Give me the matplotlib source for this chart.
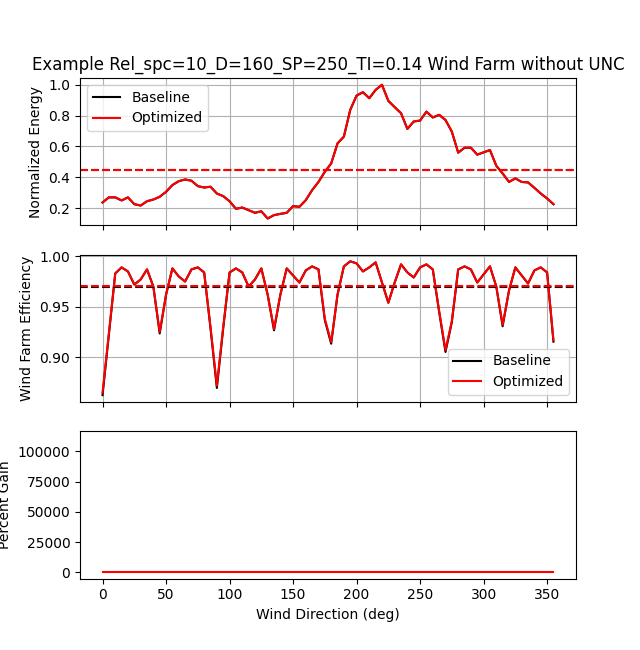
import numpy as np
import matplotlib
matplotlib.use("Agg")
import matplotlib.pyplot as plt

wd = np.arange(0, 360, 5)

energy_opt = [0.237, 0.27, 0.27, 0.25, 0.27, 0.226, 0.217, 0.245, 0.256, 0.274,
              0.306, 0.35, 0.375, 0.386, 0.378, 0.343, 0.334, 0.339, 0.295, 0.278,
              0.245, 0.196, 0.204, 0.187, 0.17, 0.18, 0.133, 0.155, 0.163, 0.17,
              0.213, 0.209, 0.252, 0.317, 0.37, 0.436, 0.49, 0.62, 0.664, 0.837,
              0.93, 0.952, 0.913, 0.967, 1.0, 0.896, 0.855, 0.816, 0.714, 0.762,
              0.768, 0.826, 0.788, 0.805, 0.772, 0.696, 0.56, 0.592, 0.592, 0.547,
              0.562, 0.577, 0.475, 0.425, 0.37, 0.393, 0.37, 0.367, 0.332, 0.295,
              0.263, 0.226]
energy_base = [v * 0.999 for v in energy_opt]

eff_opt = [0.865, 0.924, 0.983, 0.989, 0.985, 0.972, 0.977, 0.987, 0.970, 0.925,
           0.962, 0.988, 0.980, 0.975, 0.987, 0.989, 0.984, 0.930, 0.872, 0.930,
           0.984, 0.988, 0.984, 0.970, 0.977, 0.988, 0.962, 0.928, 0.962, 0.988,
           0.981, 0.974, 0.986, 0.990, 0.987, 0.938, 0.915, 0.962, 0.990, 0.995,
           0.993, 0.985, 0.989, 0.994, 0.974, 0.954, 0.974, 0.992, 0.984, 0.979,
           0.989, 0.992, 0.987, 0.946, 0.907, 0.936, 0.987, 0.990, 0.987, 0.974,
           0.982, 0.990, 0.970, 0.932, 0.966, 0.989, 0.981, 0.973, 0.986, 0.989,
           0.984, 0.917]
eff_base = [v - 0.0025 * (1 - v) / 0.13 * 1.0 if v < 0.95 else v for v in eff_opt]

gain = [0.0] * len(wd)

energy_mean = 0.447
eff_mean_base = 0.970
eff_mean_opt = 0.971

fig, axs = plt.subplots(3, 1, sharex=True, figsize=(6.4, 6.5), dpi=100)

ax = axs[0]
ax.plot(wd, energy_base, color="k", label="Baseline")
ax.plot(wd, energy_opt, color="r", label="Optimized")
ax.axhline(energy_mean, color="k", linestyle="--")
ax.axhline(energy_mean, color="r", linestyle="--")
ax.set_ylabel("Normalized Energy")
ax.set_title("Example Rel_spc=10_D=160_SP=250_TI=0.14 Wind Farm without UNC")
ax.grid(True)
ax.legend(loc="upper left")

ax = axs[1]
ax.plot(wd, eff_base, color="k", label="Baseline")
ax.plot(wd, eff_opt, color="r", label="Optimized")
ax.axhline(eff_mean_base, color="k", linestyle="--")
ax.axhline(eff_mean_opt, color="r", linestyle="--")
ax.set_ylabel("Wind Farm Efficiency")
ax.grid(True)
ax.legend(loc="lower right")

ax = axs[2]
ax.plot(wd, gain, color="r")
ax.set_ylim(-5000, 116700)
ax.set_ylabel("Percent Gain")
ax.set_xlabel("Wind Direction (deg)")

fig.savefig("out.png")
